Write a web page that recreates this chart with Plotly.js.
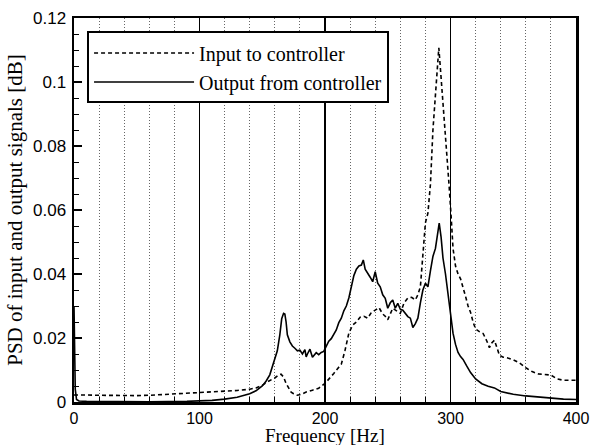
<!DOCTYPE html>
<html>
<head>
<meta charset="utf-8">
<script src="https://cdn.plot.ly/plotly-3.0.1.min.js"></script>
<style>html,body{margin:0;padding:0;background:#fff;}#chart{width:591px;height:445px;}</style>
</head>
<body>
<div id="chart"></div>
<script>
// Input to controller (dashed)
var inFreq = [0,5,10,20,30,40,50,60,70,80,90,100,110,120,130,140,145,150,155,160,163,165,167,169,171,173,175,178,181,185,190,195,200,204,207,210,213,216,219,222,225,228,231,234,237,240,243,246,248,250,252,254,257,260,263,266,269,272,274,276,278,280,282,284,286,288,289.5,290.7,292,293.5,295,297,299,300.5,302,304,306,308,310,312,314,316,318,320,323,326,329,331,333,335,337,339,342,345,350,355,360,365,370,375,380,385,390,395,400];
var inPSD = [0.0022,0.0021,0.0022,0.0021,0.0020,0.0021,0.0020,0.0021,0.0023,0.0025,0.0027,0.0031,0.0032,0.0035,0.0036,0.0040,0.0044,0.0052,0.0065,0.0075,0.0084,0.0087,0.0078,0.0058,0.0042,0.0031,0.0026,0.0021,0.0024,0.0031,0.0037,0.0043,0.0058,0.0075,0.0089,0.0104,0.0118,0.0162,0.0215,0.0240,0.0250,0.0265,0.0268,0.0262,0.0280,0.0287,0.0295,0.0275,0.0268,0.0257,0.0275,0.0293,0.0285,0.0277,0.0310,0.0325,0.0327,0.0319,0.0335,0.0360,0.0460,0.0560,0.0590,0.0680,0.0850,0.0970,0.1050,0.1107,0.1040,0.0960,0.0900,0.0800,0.0670,0.0580,0.0480,0.0425,0.0400,0.0385,0.0360,0.0330,0.0300,0.0280,0.0250,0.0228,0.0220,0.0214,0.0190,0.0170,0.0185,0.0193,0.0170,0.0146,0.0140,0.0138,0.0132,0.0122,0.0107,0.0095,0.0088,0.0086,0.0084,0.0072,0.0068,0.0068,0.0068];

// Output from controller (solid)
var outFreq = [0,0.5,1,2,4,10,30,60,90,100,110,120,130,140,145,150,153,156,158,160,162,164,165.5,167,168,169,170,172,174,176,178,180,182,184,185,186,188,190,191,193,195,197,199,201,203,205,207,209,211,213,215,217,219,221,223,225,227,229,230.5,232,234,236,238,240,242,244,246,248,250,252,254,256,258,260,262,264,266,268,270,272,274,276,278,280,282,284,286,288,289.5,291,292.5,294,296,298,300,302,304,306,308,310,313,316,320,325,330,335,340,345,350,360,370,380,390,400];
var outPSD = [0.0300,0.0150,0.0040,0.0008,0.0003,0.0002,0.0001,0.0001,0.0002,0.0003,0.0005,0.0009,0.0015,0.0026,0.0035,0.0050,0.0065,0.0085,0.0110,0.0130,0.0160,0.0210,0.0260,0.0277,0.0275,0.0250,0.0210,0.0188,0.0175,0.0168,0.0160,0.0162,0.0150,0.0164,0.0141,0.0150,0.0165,0.0140,0.0145,0.0154,0.0148,0.0155,0.0158,0.0172,0.0190,0.0198,0.0212,0.0225,0.0248,0.0262,0.0285,0.0300,0.0325,0.0360,0.0395,0.0415,0.0425,0.0428,0.0444,0.0415,0.0400,0.0390,0.0376,0.0407,0.0371,0.0360,0.0335,0.0324,0.0293,0.0310,0.0319,0.0293,0.0308,0.0290,0.0287,0.0277,0.0267,0.0262,0.0233,0.0245,0.0262,0.0310,0.0350,0.0371,0.0360,0.0410,0.0455,0.0480,0.0520,0.0559,0.0515,0.0450,0.0400,0.0340,0.0275,0.0215,0.0180,0.0155,0.0142,0.0133,0.0112,0.0092,0.0072,0.0057,0.0049,0.0044,0.0033,0.0028,0.0024,0.0019,0.0015,0.0011,0.0009,0.0008];

var seriesNames = ['Input to controller', 'Output from controller'];
var xTitle = 'Frequency [Hz]';
var yTitle = 'PSD of input and output signals [dB]';

var serif = 'Liberation Serif, Times New Roman, serif';
var sans = 'Liberation Sans, Arial, sans-serif';

var traces = [
  {x: inFreq, y: inPSD, name: seriesNames[0], mode: 'lines',
   line: {color: '#000', width: 1.6, dash: '4px,3px'}},
  {x: outFreq, y: outPSD, name: seriesNames[1], mode: 'lines',
   line: {color: '#000', width: 1.6}}
];

var layout = {
  width: 591, height: 445,
  margin: {l: 74, r: 15, t: 18, b: 43},
  paper_bgcolor: '#fff', plot_bgcolor: '#fff',
  showlegend: true,
  legend: {
    x: 0.026, y: 0.965, xanchor: 'left', yanchor: 'top',
    bgcolor: '#fff', bordercolor: '#000', borderwidth: 2,
    font: {family: serif, size: 20, color: '#000'},
    itemwidth: 100, tracegroupgap: 0
  },
  xaxis: {
    range: [0, 400], dtick: 100, tick0: 0,
    showline: true, linecolor: '#000', linewidth: 2.5, mirror: true,
    ticks: 'inside', ticklen: 7, tickwidth: 1.5, tickcolor: '#000',
    showgrid: true, gridcolor: '#000', gridwidth: 1.5,
    zeroline: false,
    tickfont: {family: sans, size: 16, color: '#000'},
    ticklabelstandoff: 0,
    minor: {dtick: 20, showgrid: true, gridcolor: '#666', griddash: '1px,2px', gridwidth: 1,
            ticks: 'inside', ticklen: 5, tickcolor: '#000', tickwidth: 1}
  },
  yaxis: {
    range: [0, 0.12], dtick: 0.02, tick0: 0,
    showline: true, linecolor: '#000', linewidth: 2.5, mirror: true,
    ticks: 'inside', ticklen: 8, tickwidth: 1.5, tickcolor: '#000',
    showgrid: false, zeroline: false,
    tickfont: {family: sans, size: 17, color: '#000'},
    ticklabelstandoff: 2,
    minor: {dtick: 0.005, ticks: 'inside', ticklen: 5, tickcolor: '#000', tickwidth: 1, showgrid: false},
    title: {text: yTitle, font: {family: serif, size: 21, color: '#000'}, standoff: 5}
  },
  annotations: [{
    text: xTitle, xref: 'paper', yref: 'paper', x: 0.5, y: 0,
    xanchor: 'center', yanchor: 'top', yshift: -21.5, showarrow: false,
    borderpad: 0, font: {family: serif, size: 19, color: '#000'}
  }]
};

Plotly.newPlot('chart', traces, layout, {displayModeBar: false, staticPlot: true});
</script>
</body>
</html>
